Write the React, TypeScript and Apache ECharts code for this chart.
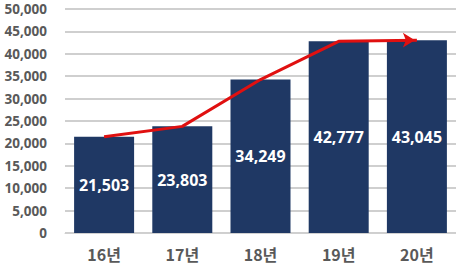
import React, { useEffect, useRef } from "react";
import * as echarts from "echarts";

const categories = ["16년", "17년", "18년", "19년", "20년"];
const barValues = [21503, 23803, 34249, 42777, 43045];
const yTicks = { min: 0, max: 50000, interval: 5000 };

export default function App() {
  const ref = useRef<HTMLDivElement>(null);
  useEffect(() => {
    if (!ref.current) return;
    const chart = echarts.init(ref.current, null, { renderer: "svg" });
    const lineData = barValues.map((v, i) =>
      i === barValues.length - 1
        ? { value: v, symbol: "arrow", symbolSize: [11, 12], symbolRotate: -90, symbolOffset: [-2, 0] }
        : { value: v }
    );
    chart.setOption({
      animation: false,
      backgroundColor: "#ffffff",
      grid: { left: 65, right: -2, top: 9, bottom: 40, containLabel: false },
      xAxis: {
        type: "category",
        data: categories,
        axisLine: { show: true, lineStyle: { color: "#D0D0D0", width: 1 } },
        axisTick: { show: false },
        axisLabel: {
          margin: 13,
          color: "#595959",
          fontSize: 16,
          fontWeight: "bold",
          fontFamily: "Noto Sans CJK KR",
        },
      },
      yAxis: {
        type: "value",
        min: yTicks.min,
        max: yTicks.max,
        interval: yTicks.interval,
        axisLine: { show: false },
        axisTick: { show: false },
        splitLine: { lineStyle: { color: "#BFBFBF", width: 1.5 } },
        axisLabel: {
          margin: 18,
          color: "#595959",
          fontSize: 13.5,
          fontWeight: "bold",
          fontFamily: "Noto Sans",
          formatter: (v: number) => v.toLocaleString("en-US"),
        },
      },
      series: [
        {
          type: "bar",
          data: barValues,
          barWidth: 60,
          itemStyle: { color: "#1F3864" },
          label: {
            show: true,
            position: "inside",
            color: "#ffffff",
            fontSize: 16,
            fontWeight: "bold",
            fontFamily: "Noto Sans",
            formatter: (p: any) => Number(p.value).toLocaleString("en-US"),
          },
          z: 2,
        },
        {
          type: "line",
          data: lineData,
          symbol: "none",
          showSymbol: true,
          lineStyle: { color: "#E01010", width: 3 },
          itemStyle: { color: "#E01010" },
          z: 5,
        },
      ],
    });
    return () => chart.dispose();
  }, []);
  return (
    <div
      ref={ref}
      style={{ position: "fixed", left: 0, top: 0, width: 456, height: 273 }}
    />
  );
}
